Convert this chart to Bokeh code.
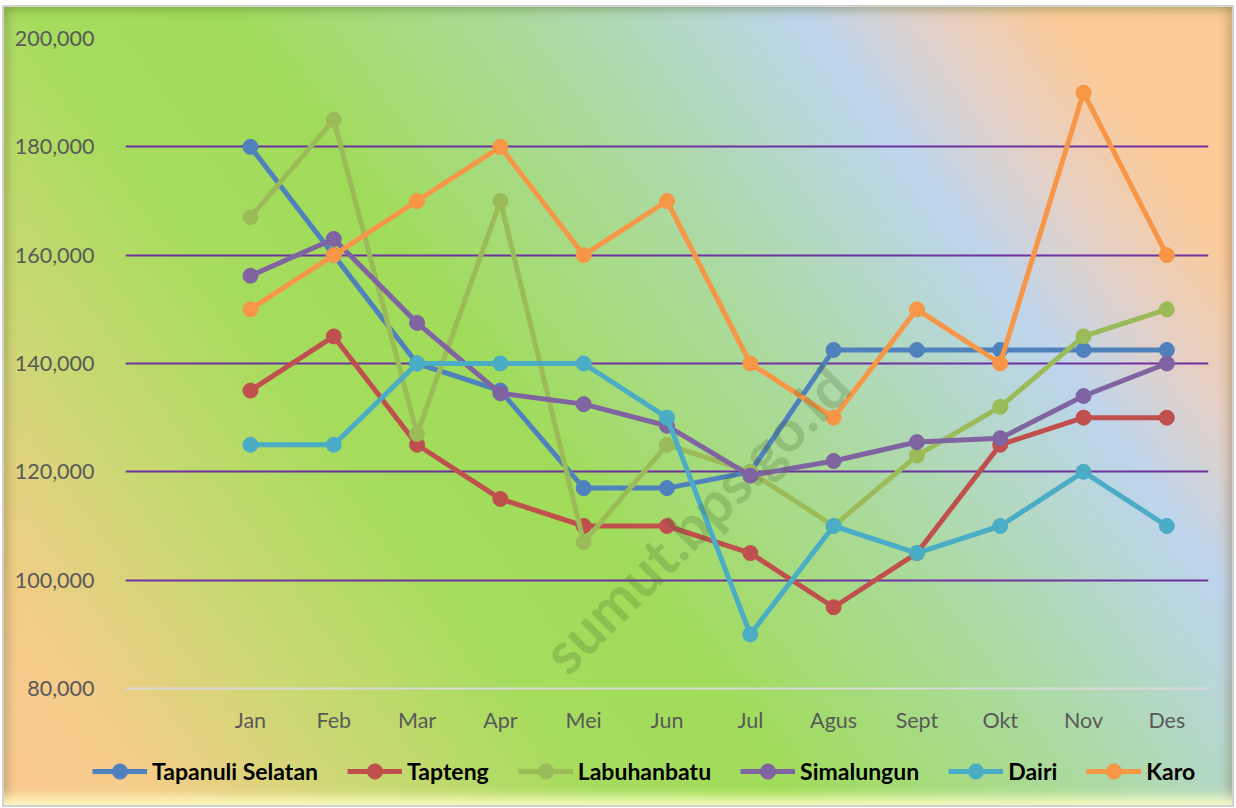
from bokeh.plotting import figure
from bokeh.layouts import column
from bokeh.models import FactorRange, Range1d, FixedTicker, NumeralTickFormatter, Label, Legend
from bokeh.embed import file_html
from bokeh.resources import INLINE

months = ["Jan", "Feb", "Mar", "Apr", "Mei", "Jun", "Jul", "Agus", "Sept", "Okt", "Nov", "Des"]
series_names = ["Tapanuli Selatan", "Tapteng", "Labuhanbatu", "Simalungun", "Dairi", "Karo"]

tapanuli_selatan = [180000, 160000, 140000, 135000, 117000, 117000, 120000, 142500, 142500, 142500, 142500, 142500]
tapteng = [135000, 145000, 125000, 115000, 110000, 110000, 105000, 95000, 105000, 125000, 130000, 130000]
labuhanbatu = [167000, 185000, 127000, 170000, 107000, 125000, 120000, 110000, 123000, 132000, 145000, 150000]
simalungun = [156200, 163000, 147500, 134500, 132500, 128500, 119300, 122000, 125500, 126200, 134000, 140000]
dairi = [125000, 125000, 140000, 140000, 140000, 130000, 90000, 110000, 105000, 110000, 120000, 110000]
karo = [150000, 160000, 170000, 180000, 160000, 170000, 140000, 130000, 150000, 140000, 190000, 160000]

y_ticks = [80000, 100000, 120000, 140000, 160000, 180000, 200000]
grid_ticks = [100000, 120000, 140000, 160000, 180000, 200000]

colors = ["#4F81BD", "#C0504D", "#9BBB59", "#8064A2", "#4BACC6", "#F79646"]
all_series = [tapanuli_selatan, tapteng, labuhanbatu, simalungun, dairi, karo]

FONT = "Lato"

gradient = ("linear-gradient(54deg, #FBC891 0%, #F3CC88 9%, #CCD874 20%, #A6DC5E 33%, "
            "#A0DC5A 44%, #A6DB7C 52%, #ABDA9C 60%, #B3D8C4 68%, #BDD5EC 76%, "
            "#E4D0C6 83%, #FBCA98 90%, #FCCA96 100%)")

# ---- main chart ----
p = figure(
    x_range=FactorRange(factors=[" "] + months, range_padding=0),
    y_range=Range1d(80000, 200000),
    frame_width=1083, frame_height=650,
    min_border_left=121, min_border_right=24, min_border_top=31, min_border_bottom=55,
    output_backend="svg", toolbar_location=None,
)
p.background_fill_alpha = 0
p.border_fill_alpha = 0
p.outline_line_color = None

p.yaxis.ticker = FixedTicker(ticks=y_ticks)
p.yaxis.formatter = NumeralTickFormatter(format="0,0")
p.yaxis.axis_line_color = None
p.yaxis.major_tick_line_color = None
p.yaxis.minor_tick_line_color = None
p.yaxis.major_label_standoff = 25
p.xaxis.axis_line_color = "#D9D9D9"
p.xaxis.axis_line_width = 2
p.xaxis.major_tick_line_color = None
p.xaxis.minor_tick_line_color = None
p.xaxis.major_label_standoff = 12
for ax in (p.xaxis, p.yaxis):
    ax.major_label_text_font = FONT
    ax.major_label_text_font_size = "21.5px"
    ax.major_label_text_color = "#595959"

p.xgrid.grid_line_color = None
p.ygrid.ticker = FixedTicker(ticks=grid_ticks)
p.ygrid.grid_line_color = "#7030A0"
p.ygrid.grid_line_width = 2

for name, vals, col in zip(series_names, all_series, colors):
    p.line(months, vals, line_color=col, line_width=5)
    p.scatter(months, vals, size=15, fill_color=col, line_color=col)

wm = Label(x=570, y=170, x_units="screen", y_units="screen",
           text="sumut.bps.go.id", angle=45, angle_units="deg",
           text_align="center", text_baseline="middle",
           text_font=FONT, text_font_style="bold", text_font_size="58px",
           text_color="#3E5A2A", text_alpha=0.22)
p.add_layout(wm)

# ---- legend strip (its own small figure, series drawn off-range so only the legend shows) ----
lf = figure(width=1228, height=62, x_range=Range1d(0, 1), y_range=Range1d(0, 1),
            x_axis_type=None, y_axis_type=None, min_border=0,
            output_backend="svg", toolbar_location=None)
lf.background_fill_alpha = 0
lf.border_fill_alpha = 0
lf.outline_line_color = None
lf.grid.visible = False

legend_items = []
for name, col in zip(series_names, colors):
    r1 = lf.line([5, 6], [5, 6], line_color=col, line_width=5)
    r2 = lf.scatter([5, 6], [5, 6], size=15, fill_color=col, line_color=col)
    legend_items.append((name, [r1, r2]))

legend = Legend(items=legend_items, orientation="horizontal", location=(88, 15),
                label_text_font=FONT, label_text_font_style="bold", label_text_font_size="23px",
                label_text_color="#000000", glyph_width=55, glyph_height=38,
                label_standoff=5, spacing=29, padding=0, margin=0,
                background_fill_alpha=0, border_line_alpha=0)
lf.add_layout(legend)

layout = column(p, column(lf, spacing=0), spacing=0)
layout.styles = {
    "background": gradient,
    "margin": "7px 0 0 4px",
    "box-shadow": ("0 0 0 2px #D2D2D2, "
                   "inset 0 -16px 12px -8px rgba(255,255,200,0.9), "
                   "inset 10px 0 10px -6px rgba(110,100,60,0.35), "
                   "inset 0 10px 10px -6px rgba(90,120,40,0.35), "
                   "inset -10px 0 10px -6px rgba(120,90,60,0.35)"),
}

open("out.html", "w").write(file_html(layout, INLINE))
